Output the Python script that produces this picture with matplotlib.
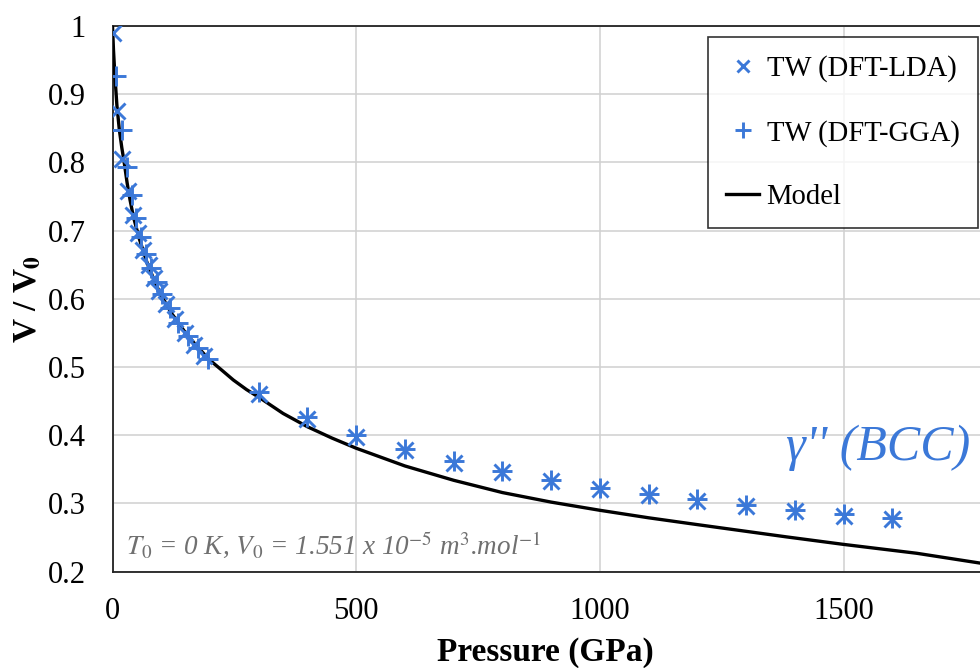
import matplotlib
matplotlib.use("Agg")
import matplotlib.pyplot as plt

# ---- data ----
lda_p = [0, 9, 19, 31, 43, 53, 63, 74, 85, 96, 110, 128, 148, 168, 188, 300, 400, 500, 600, 700, 800, 900, 1000, 1100, 1200, 1300, 1400, 1500, 1600]
lda_v = [0.990, 0.875, 0.805, 0.758, 0.723, 0.696, 0.672, 0.650, 0.630, 0.612, 0.592, 0.570, 0.550, 0.532, 0.516, 0.460, 0.424, 0.398, 0.378, 0.360, 0.346, 0.333, 0.321, 0.312, 0.304, 0.296, 0.289, 0.282, 0.277]
gga_p = [8, 19, 29, 39, 49, 59, 69, 80, 91, 102, 117, 135, 155, 175, 195, 300, 400, 500, 600, 700, 800, 900, 1000, 1100, 1200, 1300, 1400, 1500, 1600]
gga_v = [0.927, 0.847, 0.793, 0.752, 0.718, 0.690, 0.666, 0.645, 0.625, 0.607, 0.586, 0.565, 0.545, 0.528, 0.512, 0.464, 0.427, 0.400, 0.380, 0.362, 0.348, 0.335, 0.323, 0.314, 0.306, 0.298, 0.291, 0.284, 0.279]
model_p = [0, 2, 5, 9, 14, 19, 24, 30, 36, 43, 55, 70, 85, 97.5, 120, 150, 175, 200, 225, 248, 275, 303, 350, 400, 450, 500, 600, 700, 800, 900, 1000, 1100, 1200, 1383, 1500, 1650, 1780]
model_v = [1.0, 0.965, 0.926, 0.884, 0.848, 0.822, 0.800, 0.770, 0.745, 0.720, 0.688, 0.655, 0.628, 0.608, 0.580, 0.550, 0.529, 0.510, 0.495, 0.481, 0.467, 0.4545, 0.432, 0.4125, 0.396, 0.381, 0.355, 0.334, 0.316, 0.302, 0.290, 0.279, 0.269, 0.251, 0.240, 0.227, 0.2126]

x_ticks = [0, 500, 1000, 1500]
y_ticks = [0.2, 0.3, 0.4, 0.5, 0.6, 0.7, 0.8, 0.9, 1.0]
y_tick_labels = ["0.2", "0.3", "0.4", "0.5", "0.6", "0.7", "0.8", "0.9", "1"]

BLUE = "#3b78d8"
plt.rcParams["font.family"] = ["Liberation Serif", "DejaVu Serif"]
plt.rcParams["mathtext.fontset"] = "stix"

fig = plt.figure(figsize=(9.8, 6.68), dpi=100)
ax = fig.add_axes([0.1148, 0.1442, 1 - 0.1148, 0.961 - 0.1442])

ax.plot(lda_p, lda_v, linestyle="none", marker="x", color=BLUE, markersize=11, markeredgewidth=2.1, label="TW (DFT-LDA)", zorder=4)
ax.plot(gga_p, gga_v, linestyle="none", marker="+", color=BLUE, markersize=14.5, markeredgewidth=2.1, label="TW (DFT-GGA)", zorder=4)
ax.plot(model_p, model_v, color="black", linewidth=2.4, label="Model", zorder=3)

ax.set_xlim(0, 1780)
ax.set_ylim(0.2, 1.0)
ax.set_xticks(x_ticks)
ax.set_yticks(y_ticks)
ax.set_yticklabels(y_tick_labels)
ax.tick_params(axis="both", length=0, labelsize=22)
ax.tick_params(axis="y", pad=19)
ax.tick_params(axis="x", pad=18)
ax.grid(True, color="#d0d0d0", linewidth=1.1)
ax.set_axisbelow(True)
for s in ["left", "bottom", "top"]:
    ax.spines[s].set_color("#222222")
    ax.spines[s].set_linewidth(1.3)
ax.spines["right"].set_visible(False)

ax.set_xlabel("Pressure (GPa)", fontsize=24, fontweight="bold")
ax.set_ylabel(r"V / V$_\mathbf{0}$", fontsize=24, fontweight="bold")
ax.xaxis.set_label_coords(0.4985, -0.149)
ax.xaxis.label.set_va("center")
ax.yaxis.set_label_coords(-0.0974, 0.5)
ax.yaxis.label.set_va("center")

ax.text(0.9885, 0.228, "γ'' (BCC)", transform=ax.transAxes, color=BLUE, fontsize=36, fontstyle="italic", ha="right", va="center")
ax.text(0.015, 0.049, r"$T_0$ = 0 K, $V_0$ = 1.551 x 10$^{-5}$ m$^3$.mol$^{-1}$", transform=ax.transAxes,
        color="#707070", fontsize=19.5, fontstyle="italic", ha="left", va="center")

leg = ax.legend(loc="upper right", bbox_to_anchor=(0.9977, 0.980), fontsize=20.6, frameon=True, fancybox=False,
                edgecolor="black", handlelength=1.15, handletextpad=0.25, labelspacing=1.3, borderpad=0.65,
                borderaxespad=0, markerscale=0.75)
leg.get_frame().set_linewidth(1.2)

fig.savefig("out.png", dpi=100)
